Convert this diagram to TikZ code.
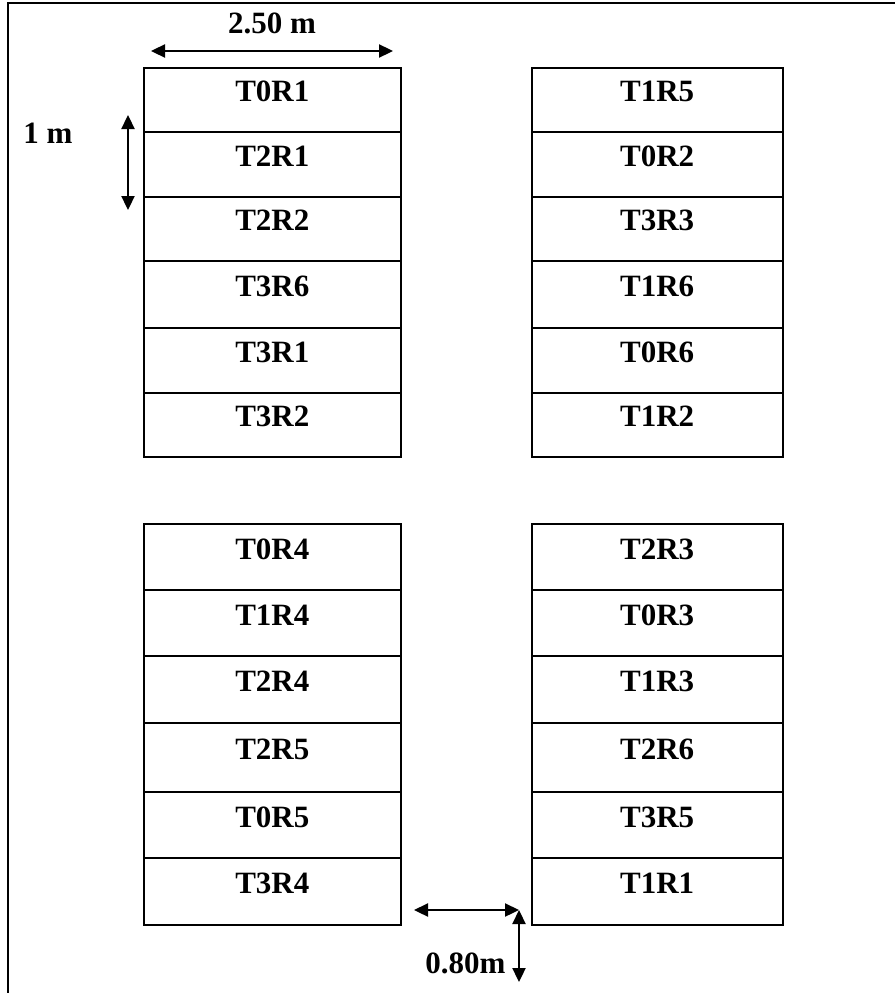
\documentclass[tikz,border=0pt]{standalone}
\usepackage{fontspec}
\setmainfont{Liberation Serif}
\usetikzlibrary{arrows.meta}
\begin{document}
\begin{tikzpicture}[x=1pt,y=-1pt,
  cell/.style={draw, line width=2.4pt, minimum width=257pt, minimum height=#1,
    inner sep=0pt, text height=24pt, text depth=20pt, font=\fontsize{31}{34}\selectfont\bfseries},
  cellR/.style={cell=#1, minimum width=251pt},
  dim/.style={line width=2.3pt, {Triangle[length=14pt,width=13pt]}-{Triangle[length=14pt,width=13pt]}},
  lbl/.style={font=\fontsize{31}{34}\selectfont\bfseries, inner sep=0pt, anchor=base}]
\useasboundingbox (0,0) rectangle (895,993);
% frame (top and left only)
\draw[line width=2.6pt] (8,993) -- (8,3) -- (895,3);
% top-left block
\foreach \n/\t/\b/\txt in {a1/68/131.7/T0R1, a2/131.7/196.7/T2R1, a3/196.7/261/T2R2, a4/261/327.7/T3R6, a5/327.7/392.7/T3R1, a6/392.7/456.7/T3R2}
  \node[cell=\b pt-\t pt] (\n) at (272.3,{(\t+\b)/2}) {\txt};
% top-right block
\foreach \n/\t/\b/\txt in {b1/68/131.7/T1R5, b2/131.7/196.7/T0R2, b3/196.7/261/T3R3, b4/261/327.7/T1R6, b5/327.7/392.7/T0R6, b6/392.7/456.7/T1R2}
  \node[cellR=\b pt-\t pt] (\n) at (657.2,{(\t+\b)/2}) {\txt};
% bottom-left block
\foreach \n/\t/\b/\txt in {c1/524/590/T0R4, c2/590/656/T1R4, c3/656/723/T2R4, c4/723/792/T2R5, c5/792/858/T0R5, c6/858/925/T3R4}
  \node[cell=\b pt-\t pt] (\n) at (272.3,{(\t+\b)/2}) {\txt};
% bottom-right block
\foreach \n/\t/\b/\txt in {d1/524/590/T2R3, d2/590/656/T0R3, d3/656/723/T1R3, d4/723/792/T2R6, d5/792/858/T3R5, d6/858/925/T1R1}
  \node[cellR=\b pt-\t pt] (\n) at (657.2,{(\t+\b)/2}) {\txt};
% dimension arrows
\coordinate (w1) at (151,51);
\coordinate (w2) at (393,51);
\draw[dim] (w1) -- (w2);
\node[lbl] (lw) at (272,33.3) {2.50 m};
\coordinate (h1) at (128,115);
\coordinate (h2) at (128,210);
\draw[dim] (h1) -- (h2);
\node[lbl] (lh) at (48,143) {1 m};
\coordinate (g1) at (414,910);
\coordinate (g2) at (519,910);
\coordinate (g3) at (519,982);
\draw[dim] (g1) -- (g2);
\draw[dim] (g2) -- (g3);
\node[lbl] (lg) at (465.5,973) {0.80m};
\end{tikzpicture}
\end{document}
